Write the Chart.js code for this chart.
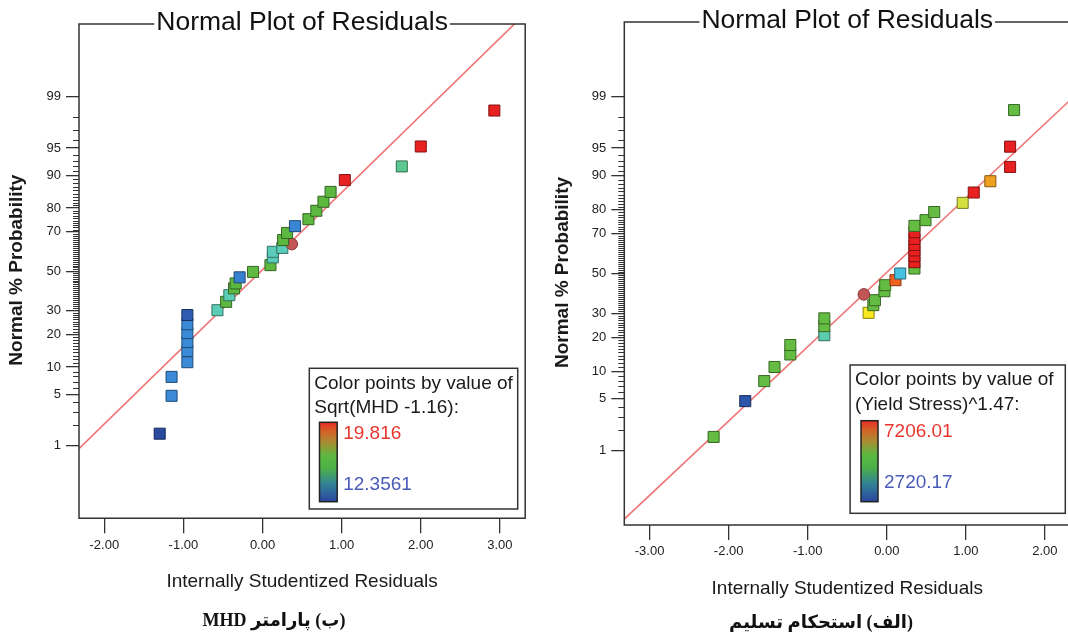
<!DOCTYPE html>
<html><head><meta charset="utf-8">
<script src="https://cdn.jsdelivr.net/npm/chart.js@4.4.1/dist/chart.umd.min.js"></script>
<style>
html,body{margin:0;padding:0;background:#fff;overflow:hidden;width:1068px;height:637px;position:relative;}
canvas{position:absolute;top:0;}
#c1{left:0;}
#c2{left:534px;}
.cap{position:absolute;font-family:"Liberation Serif","DejaVu Sans",serif;font-weight:bold;font-size:18px;direction:rtl;white-space:nowrap;transform:translate(-50%,-50%);color:#111;}
</style></head><body>
<canvas id="c1" width="534" height="637"></canvas>
<canvas id="c2" width="545" height="637"></canvas>
<div class="cap" style="left:274px;top:620px;">(ب) پارامتر MHD</div>
<div class="cap" style="left:821px;top:622px;">(الف) استحکام تسلیم</div>
<script>
// ---------------- DATA ----------------
const chartTitle = "Normal Plot of Residuals";
const xAxisTitle = "Internally Studentized Residuals";
const yAxisTitle = "Normal % Probability";
const probTicks = [1, 5, 10, 20, 30, 50, 70, 80, 90, 95, 99];

// Left chart: MHD
const mhdXTicks = [-2, -1, 0, 1, 2, 3];
const mhdResiduals = [-1.30, -1.15, -1.15, -0.95, -0.95, -0.95, -0.95, -0.95, -0.95, -0.57, -0.46, -0.42, -0.36, -0.34, -0.29, -0.12, 0.10, 0.13, 0.13, 0.25, 0.37, 0.26, 0.31, 0.41, 0.58, 0.68, 0.77, 0.86, 1.04, 1.76, 2.00, 2.93];
const mhdProbability = [1.5, 4.8, 7.9, 11.2, 14.3, 17.2, 20.4, 23.9, 27.9, 30.1, 34.1, 37.4, 40.9, 43.5, 46.7, 49.6, 53.2, 57.3, 60.2, 62.2, 64.1, 66.1, 69.5, 72.6, 75.6, 79.0, 82.3, 85.5, 88.8, 91.9, 95.2, 98.4];
const mhdColorValue = [12.36, 13.25, 13.25, 13.25, 13.25, 13.25, 13.25, 13.25, 12.6, 14.97, 16.5, 14.97, 16.5, 16.5, 13.1, 16.6, 16.5, 14.9, 14.9, 14.9, 18.5, 16.5, 16.5, 13.2, 16.5, 16.5, 16.5, 16.5, 19.8, 15.7, 19.8, 19.8];
const mhdHighlight = 20;
const mhdColorRange = [12.3561, 19.816];
const mhdLegendLabel = ["Color points by value of", "Sqrt(MHD -1.16):"];
const mhdLegendValues = ["19.816", "12.3561"];
const mhdLineSlope = 1.03, mhdLineIntercept = 0.02;

// Right chart: Yield Stress
const ysXTicks = [-3, -2, -1, 0, 1, 2];
const ysResiduals = [-2.19, -1.79, -1.55, -1.42, -1.22, -1.22, -0.79, -0.79, -0.79, -0.23, -0.17, -0.15, -0.29, -0.03, -0.02, 0.11, 0.17, 0.35, 0.35, 0.35, 0.35, 0.35, 0.35, 0.35, 0.35, 0.49, 0.60, 0.96, 1.10, 1.31, 1.56, 1.56, 1.61];
const ysProbability = [1.6, 4.7, 7.9, 11.0, 14.4, 17.4, 20.9, 24.5, 27.8, 30.3, 33.9, 36.3, 39.2, 40.8, 43.9, 46.5, 50.0, 52.6, 55.9, 59.0, 61.9, 64.6, 67.5, 70.6, 73.4, 75.8, 79.0, 82.3, 85.6, 88.7, 91.9, 95.2, 98.4];
const ysColorValue = [5412, 2810, 5412, 5412, 5412, 5412, 4380, 5412, 5412, 6309, 5412, 5412, 6800, 5412, 5412, 6937, 3842, 5412, 7206, 7206, 7206, 7206, 7206, 7206, 5412, 5412, 5412, 6130, 7206, 6668, 7206, 7206, 5412];
const ysHighlight = 12;
const ysColorRange = [2720.17, 7206.01];
const ysLegendLabel = ["Color points by value of", "(Yield Stress)^1.47:"];
const ysLegendValues = ["7206.01", "2720.17"];
const ysLineSlope = 0.975, ysLineIntercept = 0.015;

// ---------------- HELPERS ----------------
const FONT = '"Liberation Sans", Arial, sans-serif';
function probit(p){
  const a=[-3.969683028665376e+01,2.209460984245205e+02,-2.759285104469687e+02,1.383577518672690e+02,-3.066479806614716e+01,2.506628277459239e+00];
  const b=[-5.447609879822406e+01,1.615858368580409e+02,-1.556989798598866e+02,6.680131188771972e+01,-1.328068155288572e+01];
  const c=[-7.784894002430293e-03,-3.223964580411365e-01,-2.400758277161838e+00,-2.549732539343734e+00,4.374664141464968e+00,2.938163982698783e+00];
  const d=[7.784695709041462e-03,3.224671290700398e-01,2.445134137142996e+00,3.754408661907416e+00];
  const pl=0.02425, ph=1-pl; let q,r;
  if(p<pl){q=Math.sqrt(-2*Math.log(p));return (((((c[0]*q+c[1])*q+c[2])*q+c[3])*q+c[4])*q+c[5])/((((d[0]*q+d[1])*q+d[2])*q+d[3])*q+1);}
  if(p<=ph){q=p-0.5;r=q*q;return (((((a[0]*r+a[1])*r+a[2])*r+a[3])*r+a[4])*r+a[5])*q/(((((b[0]*r+b[1])*r+b[2])*r+b[3])*r+b[4])*r+1);}
  q=Math.sqrt(-2*Math.log(1-p));return -(((((c[0]*q+c[1])*q+c[2])*q+c[3])*q+c[4])*q+c[5])/((((d[0]*q+d[1])*q+d[2])*q+d[3])*q+1);
}
const cmapStops = [
  [0.00,[42,74,160]],[0.12,[58,138,216]],[0.25,[68,192,224]],[0.35,[92,205,181]],
  [0.45,[92,200,144]],[0.55,[92,184,64]],[0.66,[110,192,68]],[0.76,[212,224,64]],
  [0.80,[248,232,32]],[0.88,[240,160,32]],[0.94,[240,96,32]],[1.00,[232,32,32]]
];
const legendBarStops = [
  [0.00,[42,70,160]],[0.22,[50,130,150]],[0.42,[76,176,72]],[0.58,[92,184,64]],
  [0.75,[170,140,50]],[0.88,[210,100,40]],[1.00,[232,44,36]]
];
function cmapRGB(t){
  t=Math.max(0,Math.min(1,t));
  for(let i=1;i<cmapStops.length;i++){
    if(t<=cmapStops[i][0]){
      const [t0,c0]=cmapStops[i-1],[t1,c1]=cmapStops[i];
      const f=(t-t0)/(t1-t0||1);
      return c0.map((v,k)=>Math.round(v+(c1[k]-v)*f));
    }
  }
  return cmapStops[cmapStops.length-1][1];
}
const rgb = c=>`rgb(${c[0]},${c[1]},${c[2]})`;
const dark = c=>`rgb(${Math.round(c[0]*0.55)},${Math.round(c[1]*0.55)},${Math.round(c[2]*0.55)})`;

const decorPlugin = {
  id:'decor',
  afterDraw(chart, args, o){
    const {ctx, chartArea:a} = chart;
    ctx.save();
    ctx.font = `26.5px ${FONT}`;
    const tw = ctx.measureText(o.title).width;
    const tx = (a.left+a.right)/2;
    ctx.strokeStyle='#333'; ctx.lineWidth=1.5;
    ctx.beginPath();
    ctx.moveTo(tx+tw/2+2, a.top); ctx.lineTo(a.right, a.top); ctx.lineTo(a.right, a.bottom);
    ctx.lineTo(a.left, a.bottom); ctx.lineTo(a.left, a.top); ctx.lineTo(tx-tw/2-2, a.top);
    ctx.stroke();
    ctx.fillStyle='#111'; ctx.textAlign='center'; ctx.textBaseline='alphabetic';
    ctx.fillText(o.title, tx, a.top+5.5);
    const ys = chart.scales.y;
    ctx.strokeStyle='#333'; ctx.lineWidth=1;
    ctx.beginPath();
    for(let p=1;p<=99;p++){
      if(probTicks.includes(p)) continue;
      const py = Math.round(ys.getPixelForValue(probit(p/100)))+0.5;
      ctx.moveTo(a.left-6, py); ctx.lineTo(a.left, py);
    }
    ctx.stroke();
    ctx.fillStyle='#1a1a1a';
    ctx.font = `19px ${FONT}`;
    ctx.textAlign='center'; ctx.textBaseline='middle';
    ctx.fillText(o.xTitle, tx, a.bottom+63.5);
    ctx.save();
    ctx.translate(a.left-62, (a.top+a.bottom)/2-1);
    ctx.rotate(-Math.PI/2);
    ctx.font = `bold 19px ${FONT}`;
    ctx.fillText(o.yTitle, 0, 0);
    ctx.restore();
    const L = o.legend;
    ctx.fillStyle='#fff'; ctx.fillRect(L.x, L.y, L.w, L.h);
    ctx.strokeStyle='#333'; ctx.lineWidth=1.5; ctx.strokeRect(L.x, L.y, L.w, L.h);
    ctx.fillStyle='#1a1a1a'; ctx.font=`19px ${FONT}`; ctx.textAlign='left'; ctx.textBaseline='middle';
    ctx.fillText(L.lines[0], L.x+5, L.y+15);
    ctx.fillText(L.lines[1], L.x+5, L.y+39.5);
    const g = ctx.createLinearGradient(0, L.barY+L.barH, 0, L.barY);
    legendBarStops.forEach(s=>g.addColorStop(s[0], rgb(s[1])));
    ctx.fillStyle=g; ctx.fillRect(L.barX, L.barY, L.barW, L.barH);
    ctx.strokeStyle='#222'; ctx.lineWidth=1.5; ctx.strokeRect(L.barX, L.barY, L.barW, L.barH);
    ctx.fillStyle='#e8362e'; ctx.fillText(L.values[0], L.barX+L.barW+6, L.barY+11);
    ctx.fillStyle='#4a5ab8'; ctx.fillText(L.values[1], L.barX+L.barW+6, L.barY+62);
    ctx.restore();
  }
};

function buildChart(id, c){
  const pts = c.residuals.map((r,i)=>({x:r, y:probit(c.probability[i]/100)}));
  const cols = c.colorValue.map(v=>cmapRGB((v-c.range[0])/(c.range[1]-c.range[0])));
  const fill = cols.map((cc,i)=> i===c.highlight ? '#c25656' : rgb(cc));
  const border = cols.map((cc,i)=> i===c.highlight ? '#8a3a3a' : dark(cc));
  const styles = cols.map((cc,i)=> i===c.highlight ? 'circle' : 'rect');
  const radii = cols.map((cc,i)=> i===c.highlight ? 5.8 : 7.8);
  const linePts = [c.xMin, c.xMax].map(x=>({x, y:c.slope*x+c.intercept}));
  return new Chart(document.getElementById(id), {
    type:'scatter',
    data:{datasets:[
      {data:pts, pointStyle:styles, pointRadius:radii, pointHoverRadius:radii, backgroundColor:fill, borderColor:border, pointBorderWidth:1, order:1},
      {data:linePts, showLine:true, pointRadius:0, borderColor:'#ef7474', borderWidth:1.6, order:2}
    ]},
    options:{
      responsive:false, animation:false, events:[],
      layout:{padding:{left:0, top:c.top, right:c.padRight, bottom:0}},
      plugins:{legend:{display:false}, tooltip:{enabled:false},
        decor:{title:chartTitle, xTitle:xAxisTitle, yTitle:yAxisTitle, legend:c.legend}},
      scales:{
        x:{type:'linear', min:c.xMin, max:c.xMax,
          afterBuildTicks:s=>{s.ticks=c.xTicks.map(v=>({value:v}));},
          afterFit:s=>{s.height=c.xAxisH;},
          grid:{drawOnChartArea:false, drawTicks:true, tickLength:15, color:'#333', lineWidth:1.3},
          border:{display:false},
          ticks:{autoSkip:false, maxRotation:0, padding:4, color:'#222', font:{family:FONT,size:13}, callback:v=>Number(v).toFixed(2)}
        },
        y:{type:'linear', min:-3.3, max:3.3,
          afterBuildTicks:s=>{s.ticks=probTicks.map(p=>({value:probit(p/100)}));},
          afterFit:s=>{s.width=c.yAxisW;},
          grid:{drawOnChartArea:false, drawTicks:true, tickLength:13, color:'#333', lineWidth:1.3},
          border:{display:false},
          ticks:{autoSkip:false, padding:5, color:'#222', font:{family:FONT,size:13}, callback:(v,i)=>String(probTicks[i])}
        }
      }
    },
    plugins:[decorPlugin]
  });
}

buildChart('c1', {
  residuals:mhdResiduals, probability:mhdProbability, colorValue:mhdColorValue, highlight:mhdHighlight,
  range:mhdColorRange, xTicks:mhdXTicks, xMin:-2.32, xMax:3.32, slope:mhdLineSlope, intercept:mhdLineIntercept,
  top:24, padRight:7.8, yAxisW:79, xAxisH:118.7,
  legend:{x:309.3, y:368.3, w:208.4, h:140.7, lines:mhdLegendLabel, values:mhdLegendValues, barX:319.5, barY:422.3, barW:17.7, barH:79.4}
});
buildChart('c2', {
  residuals:ysResiduals, probability:ysProbability, colorValue:ysColorValue, highlight:ysHighlight,
  range:ysColorRange, xTicks:ysXTicks, xMin:-3.32, xMax:2.32, slope:ysLineSlope, intercept:ysLineIntercept,
  top:22, padRight:3, yAxisW:90.3, xAxisH:112,
  legend:{x:316.1, y:365, w:215.2, h:148.3, lines:ysLegendLabel, values:ysLegendValues, barX:327, barY:420.7, barW:17, barH:81}
});
</script>
</body></html>
